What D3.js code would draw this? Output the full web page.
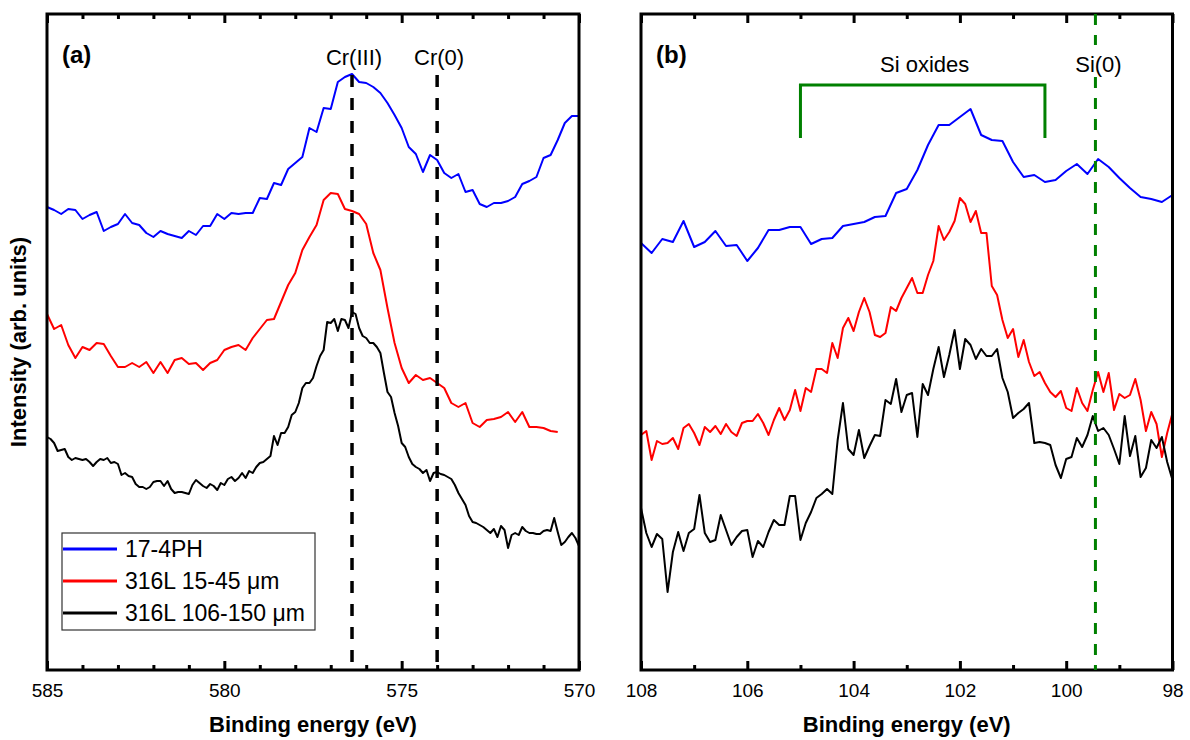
<!DOCTYPE html>
<html>
<head>
<meta charset="utf-8">
<script src="https://cdn.jsdelivr.net/npm/d3@7"></script>
<style>
    body { margin: 0; background: #fff; }
    text { font-family: "Liberation Sans", Arial, sans-serif; }
</style>
</head>
<body>
<div id="graph_box"></div>
<script>
// Cr 2p3/2 region, panel (a) - intensities in arb. units, binding energy decreasing
const crStart = 585
const crBlueStep = 0.2, crRedStep = 0.2, crBlackStep = 0.1
const crBlue = [463, 460, 456, 461, 460, 451, 455, 458, 439, 443, 446, 456, 447, 445, 437, 433, 439, 436, 434, 432, 439, 435, 444, 444, 456, 451,
    457, 456, 457, 457, 472, 471, 487, 485, 501, 507, 513, 542, 538, 562, 561, 588, 593, 596, 588, 587, 583, 577, 567, 555, 542,
    523, 516, 498, 515, 510, 497, 492, 496, 478, 480, 466, 463, 467, 467, 469, 473, 486, 489, 493, 512, 515, 530, 547, 554, 554]
const crRed = [356, 341, 345, 325, 312, 323, 320, 327, 326, 314, 303, 303, 307, 303, 308, 297, 308, 297, 310, 312, 306, 307, 300, 307, 310, 320,
    323, 325, 320, 332, 341, 350, 351, 368, 385, 397, 420, 433, 445, 470, 477, 476, 461, 459, 456, 446, 417, 400, 362, 327, 302,
    287, 295, 290, 292, 287, 282, 267, 263, 267, 247, 243, 250, 251, 253, 258, 248, 258, 243, 243, 242, 239, 238]
const crBlack = [233, 231, 227, 219, 220, 221, 213, 210, 212, 211,
    210, 211, 208, 204, 208, 211, 210, 212, 207, 208,
    206, 195, 197, 194, 193, 186, 183, 183, 181, 183,
    188, 189, 189, 184, 189, 181, 177, 178, 178, 177,
    176, 185, 190, 187, 184, 182, 186, 184, 180, 187,
    185, 191, 193, 189, 192, 197, 192, 199, 197, 203,
    207, 208, 211, 214, 234, 225, 237, 237, 243, 255,
    258, 267, 282, 287, 287, 292, 304, 314, 320, 348,
    347, 351, 339, 351, 350, 342, 358, 356, 342, 334,
    332, 327, 327, 323, 317, 297, 278, 273, 257, 244,
    227, 223, 213, 206, 203, 201, 197, 200, 189, 197,
    198, 196, 195, 193, 191, 185, 177, 171, 165, 154,
    148, 147, 145, 143, 140, 137, 141, 133, 144, 140,
    122, 135, 137, 135, 143, 139, 137, 137, 136, 136,
    139, 140, 139, 152, 138, 125, 128, 133, 137, 132,
    124]
const crTicks = [585, 580, 575, 570]
const crMinorTicks = [584, 583, 582, 581, 579, 578, 577, 576, 574, 573, 572, 571]
const crMarkers = [{ label: "Cr(III)", e: 576.4 }, { label: "Cr(0)", e: 574.0 }]

// Si 2p region, panel (b)
const siStart = 108
const siBlueStep = 0.2, siRedStep = 0.1, siBlackStep = 0.1
const siBlue = [427, 417, 431, 428, 449, 423, 428, 439, 424, 425,
    409, 422, 440, 440, 443, 443, 426, 431, 432, 444,
    446, 448, 453, 454, 477, 481, 500, 525, 545, 545,
    553, 561, 535, 530, 529, 508, 493, 495, 488, 490,
    499, 506, 496, 511, 503, 492, 482, 473, 471, 468,
    475]
const siRed = [235, 239, 210, 229, 226, 227, 232, 221, 242, 246,
    237, 225, 243, 238, 244, 236, 246, 238, 234, 247,
    249, 249, 256, 247, 235, 250, 262, 250, 260, 280,
    259, 282, 278, 301, 301, 297, 327, 312, 342, 352,
    339, 358, 372, 358, 335, 333, 337, 363, 359, 372,
    382, 392, 377, 377, 395, 409, 444, 430, 438, 449,
    472, 466, 448, 459, 437, 437, 384, 375, 350, 332,
    341, 313, 330, 308, 294, 298, 287, 278, 273, 279,
    262, 259, 282, 267, 259, 280, 298, 278, 297, 260,
    276, 272, 275, 291, 270, 239, 258, 246, 213, 237,
    257]
const siBlack = [162, 137, 123, 136, 131, 78, 118, 138, 119, 137,
    141, 175, 137, 128, 130, 155, 140, 125, 133, 139,
    140, 113, 129, 123, 138, 150, 145, 145, 174, 174,
    130, 147, 158, 172, 176, 181, 176, 230, 267, 221,
    215, 240, 212, 224, 235, 234, 270, 266, 291, 258,
    275, 277, 233, 286, 275, 301, 323, 293, 315, 340,
    301, 331, 325, 311, 321, 314, 314, 321, 292, 278,
    252, 257, 261, 267, 227, 228, 227, 225, 205, 192,
    211, 213, 232, 223, 235, 254, 239, 242, 235, 221,
    206, 254, 214, 234, 193, 202, 230, 222, 233, 208,
    190]
const siTicks = [108, 106, 104, 102, 100, 98]
const siMinorTicks = [107, 105, 103, 101, 99]
const siOxides = [105.0, 100.4]
const siZero = 99.45

const seriesNames = ["17-4PH", "316L 15-45 \u03BCm", "316L 106-150 \u03BCm"]
const seriesColors = ["#0000ff", "#ff0000", "#000000"]

const W = 1190, H = 740
const plotTop = 14, plotBottom = 670

const svg = d3.select("#graph_box")
    .append("svg")
    .attr("width", W)
    .attr("height", H)
    .style("display", "block")

svg.append("rect").attr("width", W).attr("height", H).attr("fill", "#fff")

// intensity axis is shared, no ticks shown
const y = d3.scaleLinear().domain([0, 656]).range([plotBottom, plotTop])

function drawPanel(p) {
    const x = d3.scaleLinear().domain(p.domain).range(p.range)
    const g = svg.append("g")

    // curves
    p.series.forEach(function (s, k) {
        const line = d3.line()
            .x(function (d, i) { return x(p.start - i * s.step) })
            .y(function (d) { return y(d) })
        g.append("path")
            .datum(s.values)
            .attr("d", line)
            .attr("fill", "none")
            .attr("stroke", seriesColors[k])
            .attr("stroke-width", 2)
            .attr("stroke-linejoin", "round")
    })

    // frame
    g.append("rect")
        .attr("x", p.range[0])
        .attr("y", plotTop)
        .attr("width", p.range[1] - p.range[0])
        .attr("height", plotBottom - plotTop)
        .attr("fill", "none")
        .attr("stroke", "#000")
        .attr("stroke-width", 3)

    // ticks, pointing inward on bottom and top
    const axes = [
        [d3.axisBottom(x).tickValues(p.ticks).tickSizeInner(-9).tickSizeOuter(0).tickPadding(14), plotBottom],
        [d3.axisBottom(x).tickValues(p.minor).tickSizeInner(-5).tickSizeOuter(0).tickFormat(""), plotBottom],
        [d3.axisTop(x).tickValues(p.ticks).tickSizeInner(-9).tickSizeOuter(0).tickFormat(""), plotTop],
        [d3.axisTop(x).tickValues(p.minor).tickSizeInner(-5).tickSizeOuter(0).tickFormat(""), plotTop]
    ]
    axes.forEach(function (a) {
        const ag = g.append("g")
            .attr("transform", "translate(0," + a[1] + ")")
            .call(a[0])
        ag.select(".domain").remove()
        ag.selectAll(".tick line").attr("stroke-width", 3)
        ag.attr("font-size", 19).attr("font-family", null)
        ag.selectAll(".tick text").attr("fill", "#000")
    })

    // x title
    g.append("text")
        .attr("x", (p.range[0] + p.range[1]) / 2)
        .attr("y", 732)
        .attr("text-anchor", "middle")
        .style("font-size", "22px")
        .style("font-weight", "bold")
        .text("Binding energy (eV)")

    // panel letter
    g.append("text")
        .attr("x", p.range[0] + 15)
        .attr("y", 63)
        .style("font-size", "24px")
        .style("font-weight", "bold")
        .text(p.letter)

    return { g: g, x: x }
}

// panel (a)
const pa = drawPanel({
    domain: [585, 570], range: [47, 579], start: crStart,
    ticks: crTicks, minor: crMinorTicks, letter: "(a)",
    series: [
        { values: crBlue, step: crBlueStep },
        { values: crRed, step: crRedStep },
        { values: crBlack, step: crBlackStep }
    ]
})

crMarkers.forEach(function (m) {
    pa.g.append("line")
        .attr("x1", pa.x(m.e)).attr("x2", pa.x(m.e))
        .attr("y1", y(595)).attr("y2", y(0))
        .attr("stroke", "#000")
        .attr("stroke-width", 3.5)
        .attr("stroke-dasharray", "12,11")
    pa.g.append("text")
        .attr("x", pa.x(m.e) + 2)
        .attr("y", y(605))
        .attr("text-anchor", "middle")
        .style("font-size", "22px")
        .text(m.label)
})

// panel (b)
const pb = drawPanel({
    domain: [108, 98], range: [641, 1172.5], start: siStart,
    ticks: siTicks, minor: siMinorTicks, letter: "(b)",
    series: [
        { values: siBlue, step: siBlueStep },
        { values: siRed, step: siRedStep },
        { values: siBlack, step: siBlackStep }
    ]
})

// Si(0) marker runs full height but stops around its label
pb.g.selectAll(".si0")
    .data([[656, 625], [593, 0]])
    .enter()
    .append("line")
    .attr("class", "si0")
    .attr("x1", pb.x(siZero)).attr("x2", pb.x(siZero))
    .attr("y1", function (d) { return y(d[0]) })
    .attr("y2", function (d) { return y(d[1]) })
    .attr("stroke", "#008000")
    .attr("stroke-width", 3)
    .attr("stroke-dasharray", "11,10")

pb.g.append("path")
    .attr("d", "M" + pb.x(siOxides[0]) + "," + y(532) +
        "V" + y(585) + "H" + pb.x(siOxides[1]) + "V" + y(532))
    .attr("fill", "none")
    .attr("stroke", "#008000")
    .attr("stroke-width", 3)

pb.g.append("text")
    .attr("x", (pb.x(siOxides[0]) + pb.x(siOxides[1])) / 2 + 2)
    .attr("y", y(598))
    .attr("text-anchor", "middle")
    .style("font-size", "22px")
    .text("Si oxides")

pb.g.append("text")
    .attr("x", pb.x(siZero) + 3)
    .attr("y", y(598))
    .attr("text-anchor", "middle")
    .style("font-size", "22px")
    .text("Si(0)")

// y title
svg.append("text")
    .attr("transform", "translate(26," + ((plotTop + plotBottom) / 2) + ") rotate(-90)")
    .attr("text-anchor", "middle")
    .style("font-size", "22px")
    .style("font-weight", "bold")
    .text("Intensity (arb. units)")

// legend
const legend = svg.append("g").attr("transform", "translate(62,533)")
legend.append("rect")
    .attr("width", 253)
    .attr("height", 97)
    .attr("fill", "#fff")
    .attr("stroke", "#333")
    .attr("stroke-width", 1.2)
seriesNames.forEach(function (name, i) {
    const row = legend.append("g").attr("transform", "translate(0," + (16 + i * 32) + ")")
    row.append("line")
        .attr("x1", 1).attr("x2", 55)
        .attr("stroke", seriesColors[i])
        .attr("stroke-width", 3)
    row.append("text")
        .attr("x", 63)
        .attr("y", 8)
        .style("font-size", "23px")
        .text(name)
})
</script>
</body>
</html>
